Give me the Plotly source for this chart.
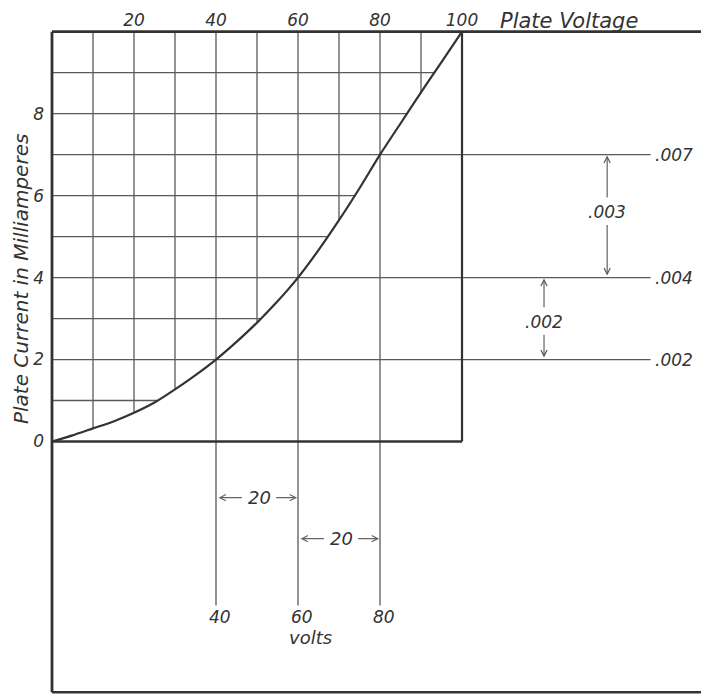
import numpy as np
import plotly.graph_objects as go

# ---------------- data ----------------
volts = [0, 5, 10, 15, 20, 25, 30, 35, 40, 45, 50, 55, 60, 65, 70, 75, 80, 85, 90, 95, 100]
current_ma = [0, 0.15, 0.32, 0.49, 0.70, 0.95, 1.27, 1.62, 2.00, 2.43, 2.90, 3.42, 4.00,
              4.67, 5.40, 6.18, 7.00, 7.76, 8.52, 9.26, 10.0]

x_ticks = [20, 40, 60, 80, 100]
y_ticks = [0, 2, 4, 6, 8]
grid_x = [10, 20, 30, 40, 50, 60, 70, 80, 90]
grid_y = [1, 2, 3, 4, 5, 6, 7, 8, 9]
ext_x = [40, 60, 80]            # voltage lines carried below the chart
ext_x_labels = ["40", "60", "80"]
ext_y = [2, 4, 7]               # current lines carried to the right
ext_y_labels = [".002", ".004", ".007"]
dim_volt_pairs = [(40, 60), (60, 80)]
dim_volt_text = ["20", "20"]
dim_cur_pairs = [(4, 7), (2, 4)]
dim_cur_text = [".003", ".002"]

X_MAX, Y_MAX = 100, 10
EXT_RIGHT = 146
EXT_DOWN = -4.0
FRAME_BOTTOM = -6.12

W, H = 701, 688
# axis ranges chosen so that the grid sits where it does in the drawing
xr = [-10.73, 160.24]
yr = [-6.21, 10.578]

ink = "#333333"
grid_ink = "#5a5a5a"
FONT = "DejaVu Sans"

fig = go.Figure()
fig.add_trace(go.Scatter(x=volts, y=current_ma, mode="lines",
                         line=dict(color=ink, width=2.2, shape="spline", smoothing=0.6),
                         hoverinfo="skip", showlegend=False))

shapes = []
def seg(x0, y0, x1, y1, color=grid_ink, width=1.3):
    shapes.append(dict(type="line", xref="x", yref="y", x0=x0, y0=y0, x1=x1, y1=y1,
                       line=dict(color=color, width=width), layer="below"))

# vertical grid lines (stop at the curve unless carried down)
for v in grid_x:
    if v in ext_x:
        seg(v, EXT_DOWN, v, Y_MAX)
    else:
        seg(v, float(np.interp(v, volts, current_ma)), v, Y_MAX)
# horizontal grid lines (stop at the curve unless carried right)
for h in grid_y:
    if h in ext_y:
        seg(0, h, EXT_RIGHT, h)
    else:
        seg(0, h, float(np.interp(h, current_ma, volts)), h)

# inner box and outer frame
seg(0, 0, X_MAX, 0, ink, 2.4)
seg(X_MAX, 0, X_MAX, Y_MAX, ink, 2.2)
seg(0, Y_MAX, xr[1] + 5, Y_MAX, ink, 2.8)
seg(0, FRAME_BOTTOM, 0, Y_MAX, ink, 2.8)
seg(0, FRAME_BOTTOM, xr[1] + 5, FRAME_BOTTOM, ink, 2.6)

ann = []
tf = dict(family=FONT, size=16, color=ink, style="italic")

# labels at right of carried current lines
for h, t in zip(ext_y, ext_y_labels):
    ann.append(dict(x=EXT_RIGHT + 0.6, y=h, xref="x", yref="y", text=t, showarrow=False,
                    xanchor="left", yanchor="middle", font=dict(tf, size=17)))
# labels below carried voltage lines
for v, t in zip(ext_x, ext_x_labels):
    ann.append(dict(x=v + 1, y=EXT_DOWN - 0.28, xref="x", yref="y", text=t, showarrow=False,
                    xanchor="center", yanchor="middle", font=dict(tf, size=17)))
ann.append(dict(x=63, y=EXT_DOWN - 0.78, xref="x", yref="y", text="volts", showarrow=False,
                xanchor="center", yanchor="middle", font=dict(tf, size=18)))

# horizontal dimension arrows (volts)
dim_y = [-1.37, -2.37]
for (a, b), t, yy in zip(dim_volt_pairs, dim_volt_text, dim_y):
    mid = (a + b) / 2 + 0.5
    ann.append(dict(x=mid, y=yy, xref="x", yref="y", text=t, showarrow=False,
                    font=dict(tf, size=18), xanchor="center", yanchor="middle"))
    for head, tail in ((a + 0.6, mid - 3.8), (b - 0.2, mid + 3.8)):
        ann.append(dict(x=head, y=yy, ax=tail, ay=yy, xref="x", yref="y", axref="x", ayref="y",
                        text="", showarrow=True, arrowhead=5, arrowsize=1.1, arrowwidth=1.1,
                        arrowcolor="#666666", standoff=0, startstandoff=0))

# vertical dimension arrows (current)
dim_x = [135.4, 120.0]
for (lo, hi), t, xx in zip(dim_cur_pairs, dim_cur_text, dim_x):
    mid = (lo + hi) / 2 + (0.1 if hi - lo > 2 else -0.08)
    ann.append(dict(x=xx, y=mid, xref="x", yref="y", text=t, showarrow=False,
                    font=dict(tf, size=17), xanchor="center", yanchor="middle"))
    for head, tail in ((hi - 0.02, mid + 0.32), (lo + 0.05, mid - 0.28)):
        ann.append(dict(x=xx, y=head, ax=xx, ay=tail, xref="x", yref="y", axref="x", ayref="y",
                        text="", showarrow=True, arrowhead=5, arrowsize=1.1, arrowwidth=1.1,
                        arrowcolor="#555555", standoff=0, startstandoff=0))

# titles
ann.append(dict(x=108.8, y=10.27, xref="x", yref="y", text="Plate Voltage", showarrow=False,
                xanchor="left", yanchor="middle", font=dict(tf, size=21)))
ann.append(dict(x=-7.5, y=3.97, xref="x", yref="y", text="Plate Current in Milliamperes",
                showarrow=False, textangle=-90, xanchor="center", yanchor="middle",
                font=dict(tf, size=20)))

xpos = (0 - xr[0]) / (xr[1] - xr[0])
ypos = (Y_MAX - yr[0]) / (yr[1] - yr[0])

fig.update_layout(
    width=W, height=H, margin=dict(l=0, r=0, t=0, b=0),
    template="none", paper_bgcolor="white", plot_bgcolor="white",
    showlegend=False, shapes=shapes, annotations=ann,
    xaxis=dict(range=xr, showgrid=False, zeroline=False, showline=False, ticks="",
               tickvals=x_ticks, ticktext=[str(v) for v in x_ticks], side="top",
               anchor="free", position=ypos, ticklabelstandoff=2, automargin=False,
               tickfont=dict(tf, size=17), fixedrange=True),
    yaxis=dict(range=yr, showgrid=False, zeroline=False, showline=False, ticks="",
               tickvals=y_ticks, ticktext=[str(v) for v in y_ticks], side="left",
               anchor="free", position=xpos, ticklabelstandoff=8, automargin=False,
               tickfont=dict(tf, size=17), fixedrange=True),
)

fig.write_html("out.html")
